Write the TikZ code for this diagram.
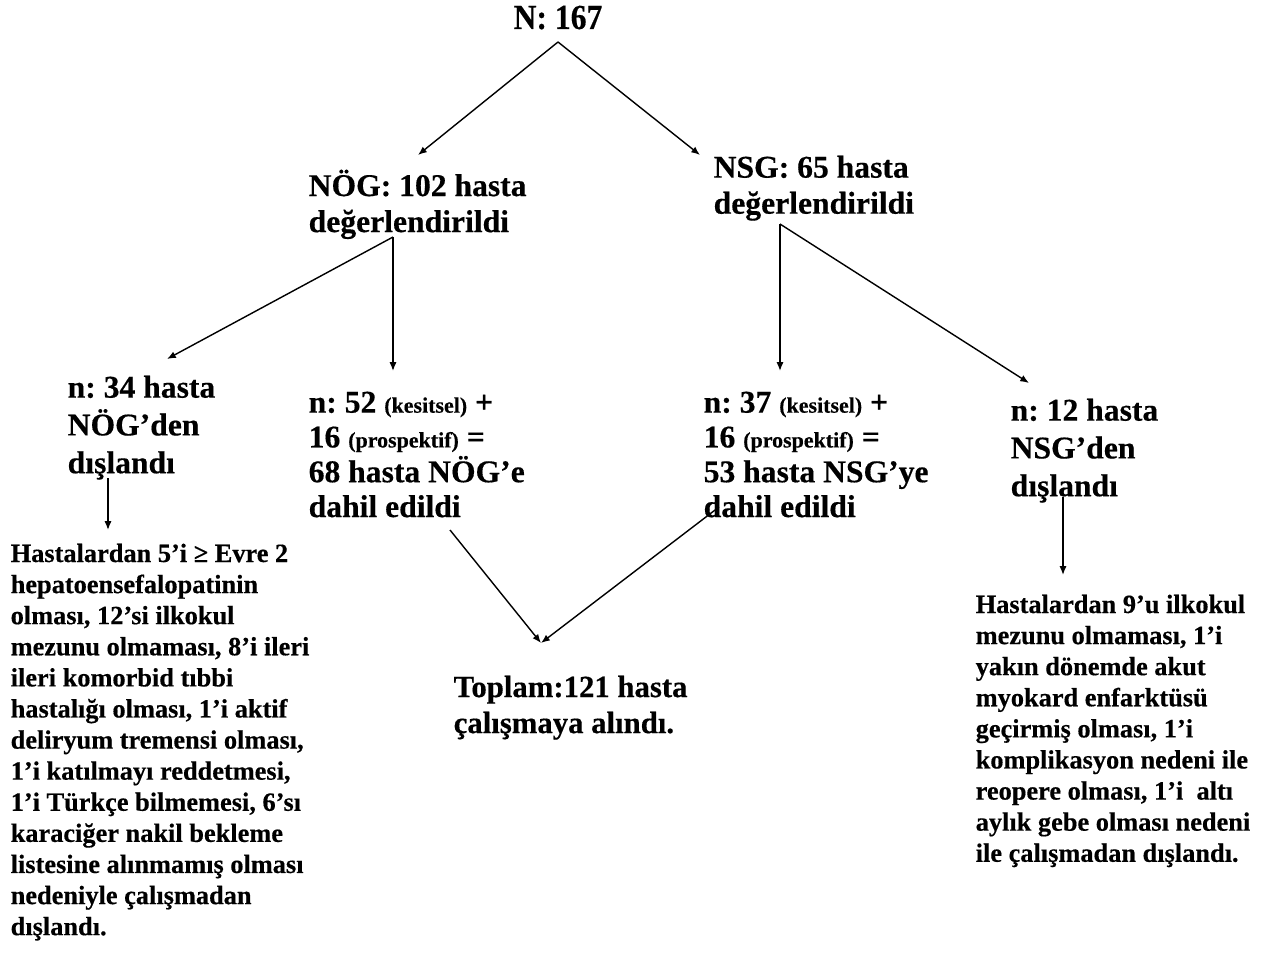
\documentclass[tikz,border=0pt]{standalone}
\usepackage{fontspec}
\setmainfont{Liberation Serif}[BoldFeatures={FakeBold=0.4}]
\newfontfamily\narrowserif{Liberation Serif}[FakeStretch=0.9,BoldFeatures={FakeBold=0.4}]
\usetikzlibrary{arrows.meta,calc}
\frenchspacing
\tikzset{
  lbl/.style={anchor=north west,inner sep=0pt,align=left,
    font=\bfseries\fontsize{18pt}{20.5pt}\selectfont},
  note/.style={anchor=north west,inner sep=0pt,align=left,
    font=\bfseries\fontsize{15pt}{17.7pt}\selectfont},
}
\newcommand{\sm}[1]{{\fontsize{12.5pt}{20pt}\selectfont #1}}
\begin{document}
\begin{tikzpicture}[x=0.02cm,y=-0.02cm,>={Latex[length=5pt,width=4pt]},line width=0.8pt]
\useasboundingbox (0,0) rectangle (1272,954);

\node[anchor=north,inner sep=0pt,font=\narrowserif\bfseries\fontsize{20pt}{24pt}\selectfont] (top) at (558,5) {N: 167};

\node[lbl] (nog) at (308,169) {NÖG: 102 hasta\\değerlendirildi};
\node[lbl] (nsg) at (713,155) {NSG: 65 hasta\\değerlendirildi};

\node[lbl] (ex1) at (67,375) {n: 34 hasta\\[1pt]NÖG’den\\[1pt]dışlandı};
\node[lbl,font=\bfseries\fontsize{18pt}{19.8pt}\selectfont] (inc1) at (308,391)
  {n: 52 \sm{(kesitsel)} +\\16 \sm{(prospektif)} =\\68 hasta NÖG’e\\dahil edildi};
\node[lbl,font=\bfseries\fontsize{18pt}{19.8pt}\selectfont] (inc2) at (703,391)
  {n: 37 \sm{(kesitsel)} +\\16 \sm{(prospektif)} =\\53 hasta NSG’ye\\dahil edildi};
\node[lbl] (ex2) at (1010,398) {n: 12 hasta\\[1pt]NSG’den\\[1pt]dışlandı};

\node[note] (why1) at (10,543) {Hastalardan 5’i ≥ Evre 2\\hepatoensefalopatinin\\olması, 12’si ilkokul\\mezunu olmaması, 8’i ileri\\ileri komorbid tıbbi\\hastalığı olması, 1’i aktif\\deliryum tremensi olması,\\1’i katılmayı reddetmesi,\\1’i Türkçe bilmemesi, 6’sı\\karaciğer nakil bekleme\\listesine alınmamış olması\\nedeniyle çalışmadan\\dışlandı.};
\node[note] (why2) at (975,594) {Hastalardan 9’u ilkokul\\mezunu olmaması, 1’i\\yakın dönemde akut\\myokard enfarktüsü\\geçirmiş olması, 1’i\\komplikasyon nedeni ile\\reopere olması, 1’i~ altı\\aylık gebe olması nedeni\\ile çalışmadan dışlandı.};

\node[lbl,font=\bfseries\fontsize{17.5pt}{20.5pt}\selectfont] (tot) at (453,675) {Toplam:121 hasta\\çalışmaya alındı.};

\draw[->] ($(top.north)+(0,37)$) -- ($(nog.north west)+(110,-14)$);
\draw[->] ($(top.north)+(0,37)$) -- ($(nsg.north west)+(-13,0)$);
\draw[->] ($(nog.north west)+(85,68)$) -- ($(ex1.north west)+(100,-16)$);
\draw[->] ($(nog.north west)+(85,68)$) -- ($(inc1.north west)+(85,-20)$);
\draw[->] ($(nsg.north west)+(67,69)$) -- ($(inc2.north west)+(77,-20)$);
\draw[->] ($(nsg.north west)+(67,69)$) -- ($(ex2.north west)+(19,-15)$);
\draw[->] ($(ex1.north west)+(41,103)$) -- ($(why1.north west)+(98,-13)$);
\draw[->] ($(ex2.north west)+(53,99)$) -- ($(why2.north west)+(88,-19)$);
\draw[->] ($(inc1.north west)+(142,139)$) -- ($(tot.north west)+(88,-32)$);
\draw[->] ($(inc2.north west)+(16,116)$) -- ($(tot.north west)+(88,-32)$);
\end{tikzpicture}
\end{document}
